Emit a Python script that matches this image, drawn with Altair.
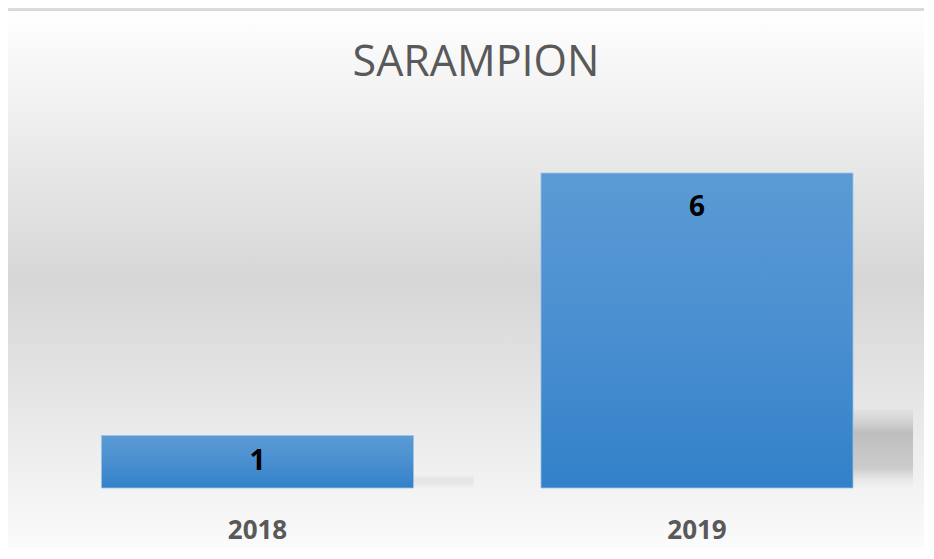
import altair as alt
import pandas as pd

# ---- data ----
years = ["2018", "2019"]
cases = [1, 6]
title_text = "SARAMPION"

df = pd.DataFrame({"year": years, "cases": cases})
bg_df = pd.DataFrame({"k": [0]})
title_df = pd.DataFrame({"t": [title_text]})

FONT = "Open Sans"
W, H = 916, 480

x_enc = alt.X(
    "year:N",
    sort=years,
    scale=alt.Scale(range=[29.75, 908.75], paddingInner=0.29, paddingOuter=0.145),
    axis=alt.Axis(
        title=None, domain=False, ticks=False, grid=False,
        labelFont=FONT, labelFontSize=26, labelFontWeight="bold",
        labelColor="#595959", labelPadding=29, labelAngle=0, zindex=2,
    ),
)
y_scale = alt.Scale(domain=[0, 6], range=[480, 165], nice=False)

background = alt.Chart(bg_df).mark_rect(
    fill=alt.Gradient(
        gradient="linear", x1=0, x2=0, y1=0, y2=1,
        stops=[
            alt.GradientStop(offset=0, color="#ffffff"),
            alt.GradientStop(offset=0.48, color="#d6d6d6"),
            alt.GradientStop(offset=1, color="#ffffff"),
        ],
    ),
    stroke="#d9d9d9", strokeWidth=2,
).encode(
    x=alt.value(-3), x2=alt.value(940), y=alt.value(2), y2=alt.value(570)
)

shadow = alt.Chart(df).transform_calculate(
    sh="datum.cases * 0.25"
).mark_bar(
    xOffset=60,
    fill=alt.Gradient(
        gradient="linear", x1=0, x2=0, y1=0, y2=1,
        stops=[
            alt.GradientStop(offset=0, color="rgba(200,200,200,0.2)"),
            alt.GradientStop(offset=0.3, color="rgba(185,185,185,0.9)"),
            alt.GradientStop(offset=0.75, color="rgba(195,195,195,0.8)"),
            alt.GradientStop(offset=1, color="rgba(235,235,235,0.2)"),
        ],
    ),
).encode(
    x=x_enc,
    y=alt.Y("sh:Q", scale=y_scale, axis=None),
    y2=alt.datum(0),
    opacity=alt.condition("datum.cases > 1", alt.value(1), alt.value(0.25)),
)

bars = alt.Chart(df).mark_bar(
    fill=alt.Gradient(
        gradient="linear", x1=0, x2=0, y1=0, y2=1,
        stops=[
            alt.GradientStop(offset=0, color="#5b9bd5"),
            alt.GradientStop(offset=0.5, color="#4a8fd0"),
            alt.GradientStop(offset=1, color="#3281c9"),
        ],
    ),
    stroke="#9dc3e6", strokeWidth=1, strokeOpacity=0.8,
).encode(
    x=x_enc,
    y=alt.Y("cases:Q", scale=y_scale, axis=None),
)

labels = alt.Chart(df).transform_calculate(
    pos="datum.cases > 1 ? datum.cases - 0.66 : datum.cases / 2"
).mark_text(
    font=FONT, fontSize=28, fontWeight="bold", color="#000000", baseline="middle"
).encode(
    x=x_enc,
    y=alt.Y("pos:Q", scale=y_scale, axis=None),
    text=alt.Text("cases:Q"),
)

title = alt.Chart(title_df).mark_text(
    font=FONT, fontSize=43, color="#595959", baseline="middle"
).encode(
    x=alt.value(468), y=alt.value(55), text="t:N"
)

chart = alt.layer(background, shadow, bars, labels, title).properties(
    width=W, height=H,
    autosize=alt.AutoSizeParams(type="none"),
    padding={"left": 0, "top": 0, "right": 0, "bottom": 60},
).configure_view(stroke=None).configure(background="#ffffff")

chart.save("out.html", embed_options={"renderer": "svg", "actions": False})
